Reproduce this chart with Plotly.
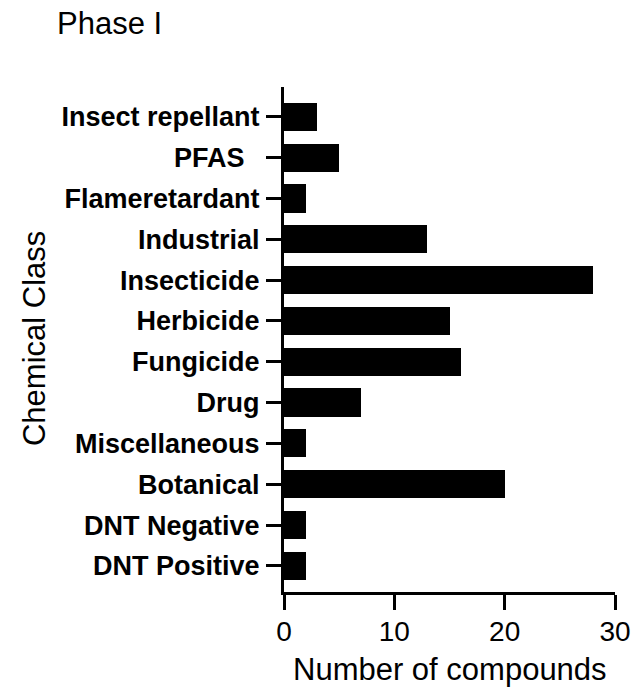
import plotly.graph_objects as go

# Chemical classes, listed bottom to top along the y axis
classes = [
    "DNT Positive",
    "DNT Negative",
    "Botanical",
    "Miscellaneous",
    "Drug",
    "Fungicide",
    "Herbicide",
    "Insecticide",
    "Industrial",
    "Flameretardant",
    "PFAS\u00a0\u00a0",
    "Insect repellant",
]
compound_counts = [2, 2, 20, 2, 7, 16, 15, 28, 13, 2, 5, 3]
x_ticks = [0, 10, 20, 30]

FONT = "Liberation Sans, Arial, sans-serif"
W, H = 643, 693
L, R, T, B = 284, 20, 87, 101
pw = W - L - R
ph = H - T - B

fig = go.Figure(
    go.Bar(
        x=compound_counts,
        y=list(range(len(classes))),
        orientation="h",
        width=0.69,
        marker=dict(color="black", line=dict(width=0)),
    )
)

fig.update_layout(
    width=W,
    height=H,
    margin=dict(l=L, r=R, t=T, b=B, pad=0),
    plot_bgcolor="white",
    paper_bgcolor="white",
    showlegend=False,
    bargap=0,
)

fig.update_xaxes(
    range=[0, 30],
    tickvals=x_ticks,
    ticktext=[str(v) for v in x_ticks],
    ticks="outside",
    ticklen=15,
    tickwidth=3,
    tickcolor="black",
    showline=True,
    linewidth=3,
    linecolor="black",
    showgrid=False,
    zeroline=False,
    ticklabelstandoff=-3,
    tickfont=dict(family=FONT, size=28, color="black"),
)

fig.update_yaxes(
    range=[-0.64, 11.73],
    tickvals=list(range(len(classes))),
    ticktext=classes,
    ticks="outside",
    ticklen=15,
    tickwidth=3,
    tickcolor="black",
    showline=True,
    linewidth=3,
    linecolor="black",
    showgrid=False,
    zeroline=False,
    ticklabelstandoff=1,
    tickfont=dict(family=FONT, size=27, color="black", weight="bold"),
)


def px_x(px):
    return (px - L) / pw


def px_y(py):
    return 1 - (py - T) / ph


fig.add_annotation(
    text="Phase I",
    xref="paper", yref="paper",
    x=px_x(49), y=px_y(24),
    xanchor="left", yanchor="middle",
    showarrow=False,
    font=dict(family=FONT, size=31, color="black"),
)
fig.add_annotation(
    text="Chemical Class",
    xref="paper", yref="paper",
    x=px_x(28), y=px_y(339),
    xanchor="center", yanchor="middle",
    textangle=-90,
    showarrow=False,
    font=dict(family=FONT, size=31, color="black"),
)
fig.add_annotation(
    text="Number of compounds",
    xref="paper", yref="paper",
    x=px_x(454), y=px_y(669),
    xanchor="center", yanchor="middle",
    showarrow=False,
    font=dict(family=FONT, size=31, color="black"),
)

fig.write_html("out.html")
